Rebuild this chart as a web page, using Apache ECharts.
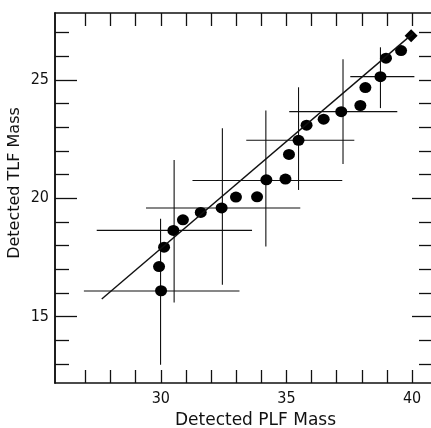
<!DOCTYPE html>
<html lang="en">
<head>
    <meta charset="UTF-8">
    <title>Detected TLF vs PLF Mass</title>
    <script src="https://cdn.jsdelivr.net/npm/echarts@6/dist/echarts.min.js"></script>
    <style>
        body { margin: 0; background: #fff; }
        #main { width: 431px; height: 428px; }
    </style>
</head>
<body>
<div id="main"></div>
<script type="text/javascript">
    // measured points
    var plfMass = [30.01, 29.93, 30.13, 30.50, 30.88, 31.59, 32.42, 32.99, 33.83, 34.20, 34.96,
                   35.10, 35.48, 35.80, 36.48, 37.18, 37.94, 38.14, 38.74, 38.96, 39.56];
    var tlfMass = [16.09, 17.11, 17.93, 18.64, 19.09, 19.40, 19.59, 20.05, 20.06, 20.78, 20.81,
                   21.85, 22.45, 23.09, 23.34, 23.66, 23.92, 24.68, 25.14, 25.92, 26.24];
    // the diamond
    var refPlf = 39.96;
    var refTlf = 26.87;

    // error crosses
    var errX    = [29.99, 30.53, 32.45, 34.18, 35.48, 37.25, 38.74];
    var errY    = [16.08, 18.64, 19.59, 20.75, 22.45, 23.66, 25.14];
    var errXlow = [26.94, 27.45, 29.41, 31.26, 33.40, 35.11, 37.54];
    var errXhi  = [33.13, 33.63, 35.55, 37.22, 37.70, 39.41, 40.09];
    var errYlow = [12.96, 15.59, 16.34, 17.96, 20.35, 21.45, 23.81];
    var errYhi  = [19.13, 21.62, 22.96, 23.71, 24.69, 25.88, 26.38];

    // straight line
    var lineX = [27.65, 40.04];
    var lineY = [15.74, 26.97];

    var xLabels = [30, 35, 40];
    var xTicks = [27, 28, 29, 30, 31, 32, 33, 34, 35, 36, 37, 38, 39, 40];
    var yLabels = [15, 20, 25];
    var yMinorLeft = [13, 14, 16, 17, 18, 19, 21, 22, 23, 24, 26, 27];
    var yMajorRight = [15, 20];
    var yMinorRight = [13, 14, 16, 17, 18, 19, 21, 22, 23, 24, 25, 26, 27];

    var font = "'DejaVu Sans Condensed', 'DejaVu Sans', sans-serif";
    var nameFont = "'DejaVu Sans', sans-serif";
    var ink = '#111';

    var pts = plfMass.map(function (x, i) { return [x, tlfMass[i]]; });
    var crosses = errX.map(function (x, i) {
        return [x, errY[i], errXlow[i], errXhi[i], errYlow[i], errYhi[i]];
    });
    var fit = lineX.map(function (x, i) { return [x, lineY[i]]; });

    function xAxisOf(pos, labels) {
        return {
            type: 'value', position: pos, min: 25.79, max: 40.95,
            splitLine: { show: false },
            axisLine: { show: true, onZero: false, lineStyle: { color: ink, width: 1.5 } },
            axisTick: { show: true, inside: true, length: 13, customValues: xTicks,
                        lineStyle: { color: ink, width: 1.3 } },
            axisLabel: { show: labels, customValues: xLabels, margin: 8,
                         color: ink, fontFamily: font, fontSize: 16 }
        };
    }

    function yAxisOf(pos, ticks, len, labels) {
        return {
            type: 'value', position: pos, min: 12.19, max: 27.83,
            splitLine: { show: false },
            axisLine: { show: true, onZero: false, lineStyle: { color: ink, width: 1.5 } },
            axisTick: { show: true, inside: true, length: len, customValues: ticks,
                        lineStyle: { color: ink, width: 1.3 } },
            axisLabel: { show: labels, customValues: yLabels, margin: 6,
                         color: ink, fontFamily: font, fontSize: 16 }
        };
    }

    var myChart = echarts.init(document.getElementById('main'));

    var xBottom = xAxisOf('bottom', true);
    xBottom.name = 'Detected PLF Mass';
    xBottom.nameLocation = 'middle';
    xBottom.nameGap = 29;
    xBottom.nameTextStyle = { color: ink, fontFamily: nameFont, fontSize: 17, padding: [0, 0, 0, 20] };

    var yLeft = yAxisOf('left', yLabels, 22, true);
    yLeft.name = 'Detected TLF Mass';
    yLeft.nameLocation = 'middle';
    yLeft.nameGap = 32;
    yLeft.nameMoveOverlap = false;
    yLeft.nameTextStyle = { color: ink, fontFamily: nameFont, fontSize: 16, padding: [0, 0, 0, 30] };

    var option = {
        animation: false,
        backgroundColor: '#fff',
        // right edge of the frame sits just outside the picture
        grid: { left: 55, top: 13, width: 381, height: 370, containLabel: false, outerBoundsMode: 'none' },
        xAxis: [xBottom, xAxisOf('top', false)],
        yAxis: [
            yLeft,
            yAxisOf('left', yMinorLeft, 14, false),
            yAxisOf('right', yMajorRight, 24, false),
            yAxisOf('right', yMinorRight, 17, false)
        ],
        series: [
            {
                type: 'custom',
                data: crosses,
                encode: { x: [0, 2, 3], y: [1, 4, 5] },
                silent: true,
                renderItem: function (params, api) {
                    var l = api.coord([api.value(2), api.value(1)]);
                    var r = api.coord([api.value(3), api.value(1)]);
                    var b = api.coord([api.value(0), api.value(4)]);
                    var t = api.coord([api.value(0), api.value(5)]);
                    var st = { stroke: ink, lineWidth: 1.1 };
                    return {
                        type: 'group',
                        children: [
                            { type: 'line', shape: { x1: l[0], y1: l[1], x2: r[0], y2: r[1] }, style: st },
                            { type: 'line', shape: { x1: b[0], y1: b[1], x2: t[0], y2: t[1] }, style: st }
                        ]
                    };
                }
            },
            {
                type: 'line',
                data: fit,
                symbol: 'none',
                silent: true,
                lineStyle: { color: ink, width: 1.4 }
            },
            {
                type: 'scatter',
                data: pts,
                symbol: 'circle',
                symbolSize: [12, 11],
                itemStyle: { color: '#000', opacity: 1 }
            },
            {
                type: 'scatter',
                data: [[refPlf, refTlf]],
                symbol: 'diamond',
                symbolSize: [13, 13],
                itemStyle: { color: '#000', opacity: 1 }
            }
        ]
    };
    myChart.setOption(option);
</script>
</body>
</html>
